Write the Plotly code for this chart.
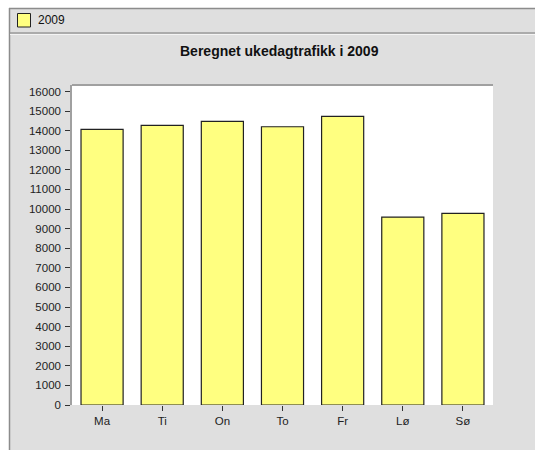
import plotly.graph_objects as go

days = ["Ma", "Ti", "On", "To", "Fr", "Lø", "Sø"]
traffic_2009 = [14070, 14270, 14470, 14200, 14730, 9590, 9780]
y_ticks = list(range(0, 16001, 1000))
series_name = "2009"
title_text = "Beregnet ukedagtrafikk i 2009"

W, H = 535, 450
L, R, T, B = 72, 493, 85, 405  # plot area in page pixels
YMAX = 16330

def px(x):
    return (x - L) / (R - L)

def py(y):
    return (B - y) / (B - T)

FONT = "Liberation Sans, Arial, sans-serif"
BG = "#DFDFDF"

fig = go.Figure()
fig.add_trace(go.Bar(
    x=days, y=traffic_2009, name=series_name,
    marker=dict(color="#FFFF80", line=dict(color="#222222", width=1.2)),
    width=0.7, showlegend=False,
))

shapes = [
    # white strips outside the frame
    dict(type="rect", xref="paper", yref="paper", x0=px(-5), x1=px(9.5), y0=py(460), y1=py(-5),
         fillcolor="white", line=dict(width=0), layer="below"),
    dict(type="rect", xref="paper", yref="paper", x0=px(-5), x1=px(545), y0=py(8), y1=py(-5),
         fillcolor="white", line=dict(width=0), layer="below"),
    # frame lines
    dict(type="line", xref="paper", yref="paper", x0=px(9), x1=px(545), y0=py(8.5), y1=py(8.5),
         line=dict(color="#8C8C8C", width=1.5)),
    dict(type="line", xref="paper", yref="paper", x0=px(9.5), x1=px(9.5), y0=py(8), y1=py(460),
         line=dict(color="#8C8C8C", width=1.5)),
    dict(type="line", xref="paper", yref="paper", x0=px(10), x1=px(545), y0=py(33), y1=py(33),
         line=dict(color="#9A9A9A", width=1.5)),
    dict(type="line", xref="paper", yref="paper", x0=px(10), x1=px(545), y0=py(34.5), y1=py(34.5),
         line=dict(color="#F4F4F4", width=1)),
    # plot area top border
    dict(type="line", xref="paper", yref="paper", x0=px(72), x1=px(493), y0=py(85), y1=py(85),
         line=dict(color="#A0A0A0", width=2)),
    # legend swatch
    dict(type="rect", xref="paper", yref="paper", x0=px(17.5), x1=px(30.5), y0=py(13.5), y1=py(27),
         fillcolor="#FFFF80", line=dict(color="#222222", width=1)),
]

annotations = [
    dict(text=series_name, xref="paper", yref="paper", x=px(36), y=py(20.5),
         xanchor="left", yanchor="middle", showarrow=False,
         font=dict(family=FONT, size=12, color="#111111")),
    dict(text="<b>" + title_text + "</b>", xref="paper", yref="paper", x=px(279), y=py(51),
         xanchor="center", yanchor="middle", showarrow=False,
         font=dict(family=FONT, size=14, color="#111111")),
]

fig.update_layout(
    width=W, height=H,
    margin=dict(l=L, r=W - R, t=T, b=H - B, pad=0),
    paper_bgcolor=BG, plot_bgcolor="white",
    shapes=shapes, annotations=annotations,
    bargap=0.3,
    xaxis=dict(
        type="category", range=[-0.5, 6.5], showgrid=False, zeroline=False,
        ticks="outside", ticklen=5, tickcolor="#333333", tickwidth=1,
        tickfont=dict(family=FONT, size=11.5, color="#222222"),
        showline=False, fixedrange=True,
    ),
    yaxis=dict(
        range=[0, YMAX], tickvals=y_ticks, ticktext=[str(v) for v in y_ticks],
        showgrid=False, zeroline=False,
        ticks="outside", ticklen=5, tickcolor="#333333", tickwidth=1,
        tickfont=dict(family=FONT, size=11.5, color="#222222"),
        showline=True, linecolor="#A0A0A0", linewidth=1.5, ticklabelstandoff=2,
        fixedrange=True,
    ),
    showlegend=False,
)

fig.write_html(
    "out.html",
    config={"displayModeBar": False},
    post_script="document.body.style.margin='0';document.body.style.overflow='hidden';",
)
